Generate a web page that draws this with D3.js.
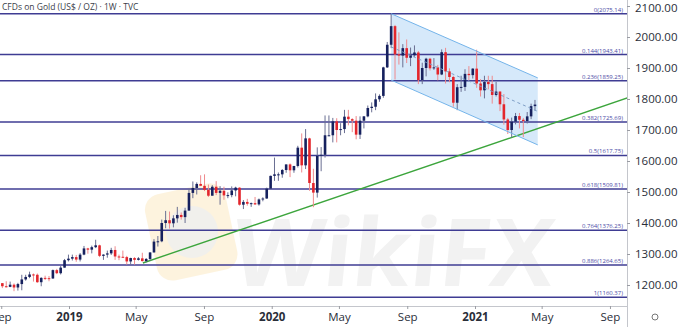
<!DOCTYPE html>
<html>
<head>
<meta charset="utf-8">
<script src="https://cdn.jsdelivr.net/npm/d3@7"></script>
<style>
  body { margin: 0; background: #fff; }
  #chart { width: 679px; height: 327px; }
  text { font-family: "Open Sans", "DejaVu Sans", sans-serif; }
</style>
</head>
<body>
<div id="chart"></div>
<script>
// weekly candles [open, high, low, close], first week starts Mon 3 Sep 2018
const firstWeek = new Date(2018, 8, 3);
const candles2018 = [
  [1206,1206,1190,1196],[1196,1212,1192,1194],[1194,1211,1193,1201],[1201,1205,1180,1192],
  [1192,1207,1182,1203],[1203,1233,1183,1218],[1218,1233,1214,1226],[1226,1243,1222,1234],
  [1234,1237,1211,1233],[1233,1237,1207,1209],[1209,1225,1196,1223],[1223,1230,1216,1222],
  [1222,1229,1212,1221],[1221,1250,1220,1248],[1248,1252,1235,1238],[1238,1261,1234,1256],
  [1256,1284,1256,1280],[1280,1298,1276,1285]
];
const candles2019 = [
  [1285,1298,1279,1290],[1290,1297,1275,1282],[1282,1303,1276,1298],[1298,1326,1296,1318],
  [1318,1320,1301,1314],[1314,1327,1302,1322],[1322,1346,1319,1328],[1328,1330,1290,1294],
  [1294,1299,1281,1298],[1298,1311,1288,1302],[1302,1320,1297,1313],[1313,1325,1281,1292],
  [1292,1298,1280,1291],[1291,1311,1289,1290],[1290,1294,1266,1276],[1276,1288,1266,1287],
  [1287,1290,1266,1281],[1281,1290,1279,1286],[1286,1304,1276,1277],[1277,1287,1273,1284],
  [1284,1306,1279,1305],[1305,1348,1305,1340],[1340,1358,1324,1341],[1341,1411,1338,1400],
  [1400,1439,1383,1409],[1409,1437,1382,1399],[1399,1425,1386,1415],[1415,1452,1401,1426],
  [1426,1434,1411,1419],[1419,1449,1400,1440],[1440,1510,1440,1497],[1497,1534,1480,1513],
  [1513,1531,1492,1526],[1526,1554,1519,1520],[1520,1557,1503,1507],[1507,1524,1484,1488],
  [1488,1522,1489,1517],[1517,1535,1490,1497],[1497,1519,1459,1504],[1504,1517,1475,1489],
  [1489,1499,1480,1490],[1490,1518,1483,1505],[1505,1517,1486,1514],[1514,1515,1456,1459],
  [1459,1474,1445,1468],[1468,1478,1456,1462],[1462,1466,1452,1464],[1464,1484,1458,1460],
  [1460,1479,1456,1476],[1476,1483,1470,1479],[1479,1514,1478,1511],[1511,1553,1510,1552]
];
const candles2020 = [
  [1552,1611,1536,1557],[1557,1563,1536,1557],[1557,1574,1546,1571],[1571,1589,1562,1589],
  [1589,1592,1548,1570],[1570,1584,1562,1584],[1584,1649,1579,1643],[1643,1689,1563,1586],
  [1586,1703,1574,1673],[1673,1675,1504,1529],[1529,1575,1451,1498],[1498,1644,1482,1617],
  [1617,1645,1567,1620],[1620,1747,1611,1683],[1683,1747,1680,1683],[1683,1739,1660,1728],
  [1728,1738,1660,1700],[1700,1722,1683,1703],[1703,1765,1690,1743],[1743,1765,1715,1735],
  [1735,1738,1693,1730],[1730,1745,1670,1685],[1685,1744,1671,1730],[1730,1745,1705,1744],
  [1744,1779,1741,1771],[1771,1789,1757,1775],[1775,1818,1764,1799],[1799,1815,1791,1810],
  [1810,1904,1804,1902],[1902,1984,1900,1975],[1975,2075,1964,2035],[2035,2039,1863,1944],
  [1944,2015,1911,1940],[1940,1977,1902,1964],[1964,1992,1916,1933],[1933,1966,1906,1941],
  [1941,1973,1936,1950],[1950,1955,1848,1861],[1861,1917,1848,1900],[1900,1933,1873,1930],
  [1930,1933,1892,1899],[1899,1932,1894,1902],[1902,1910,1860,1879],[1879,1960,1877,1951],
  [1951,1965,1850,1889],[1889,1899,1854,1871],[1871,1875,1775,1788],[1788,1848,1764,1838],
  [1838,1875,1823,1839],[1839,1896,1826,1881],[1881,1906,1860,1877],[1877,1899,1866,1898]
];
const candles2021 = [
  [1898,1959,1836,1850],[1850,1864,1808,1828],[1828,1875,1802,1855],[1855,1875,1831,1848],
  [1848,1875,1785,1813],[1813,1855,1808,1824],[1824,1825,1761,1783],[1783,1816,1717,1734],
  [1734,1739,1687,1700],[1700,1740,1676,1727],[1727,1755,1718,1745],[1745,1755,1705,1733],
  [1733,1739,1677,1729],[1729,1758,1721,1744],[1744,1785,1735,1777],[1777,1797,1763,1782]
];

const fibLevels = [
  [0, 2075.14], [0.144, 1943.41], [0.236, 1859.25], [0.382, 1725.69], [0.5, 1617.75],
  [0.618, 1509.81], [0.764, 1376.25], [0.886, 1264.65], [1, 1160.37]
];
const priceTicks = [1200, 1300, 1400, 1500, 1600, 1700, 1800, 1900, 2000, 2100];
const timeTicks = ["2018-09-01", "2019-01-01", "2019-05-01", "2019-09-01", "2020-01-01",
                   "2020-05-01", "2020-09-01", "2021-01-01", "2021-05-01", "2021-09-01"];
const channelUpper = [["2020-08-03", 2075.14], ["2021-04-24", 1868]];
const channelLower = [["2020-08-03", 1861], ["2021-04-24", 1652]];
const trendLine = [["2019-05-14", 1271], ["2021-10-15", 1811]];
const title = "CFDs on Gold (US$ / OZ) · 1W · TVC";

const parse = d3.timeParse("%Y-%m-%d");
const W = 679, H = 327, plotRight = 627, plotBottom = 306;

const svg = d3.select("#chart").append("svg").attr("width", W).attr("height", H);
svg.append("rect").attr("width", W).attr("height", H).attr("fill", "#fff");
svg.append("clipPath").attr("id", "plot").append("rect")
  .attr("width", plotRight).attr("height", plotBottom);

const x = d3.scaleTime()
  .domain([new Date(2019, 0, 1), new Date(2021, 0, 1)])
  .range([69, 475]);
const y = d3.scaleLinear().domain([1200, 2100]).range([285, 6]);

const bars = [].concat(candles2018, candles2019, candles2020, candles2021)
  .map((c, i) => ({ date: d3.timeMonday.offset(firstWeek, i), o: c[0], h: c[1], l: c[2], c: c[3] }));

const plot = svg.append("g").attr("clip-path", "url(#plot)");

// watermark
const wm = plot.append("g").attr("opacity", 0.45);
wm.append("rect").attr("x", 150).attr("y", 188).attr("width", 82).attr("height", 88)
  .attr("rx", 16).attr("fill", "#fbe6b8")
  .attr("transform", "rotate(-12,191,231)");
wm.append("circle").attr("cx", 192).attr("cy", 232).attr("r", 26).attr("fill", "#e2ded6");
plot.append("text").attr("x", 260).attr("y", 286).text("WikiFX")
  .attr("font-size", 94).attr("font-weight", 700).attr("fill", "#f2f2f2")
  .attr("transform", "skewX(-6)");

// descending channel
const chanPts = [
  [x(parse(channelUpper[0][0])), y(channelUpper[0][1])],
  [x(parse(channelUpper[1][0])), y(channelUpper[1][1])],
  [x(parse(channelLower[1][0])), y(channelLower[1][1])],
  [x(parse(channelLower[0][0])), y(channelLower[0][1])]
];
plot.append("polygon").attr("points", chanPts.map(p => p.join(",")).join(" "))
  .attr("fill", "#cfe5f9").attr("opacity", 0.85);

// fibonacci retracements
fibLevels.forEach(f => {
  plot.append("line").attr("x1", 0).attr("x2", plotRight)
    .attr("y1", y(f[1])).attr("y2", y(f[1]))
    .attr("stroke", "#3f3c93").attr("stroke-width", 1.5);
  plot.append("text").attr("x", 623).attr("y", y(f[1]) - 2)
    .attr("text-anchor", "end").attr("font-size", 6).attr("fill", "#4b4ba6")
    .text(f[0] + "(" + f[1].toFixed(2) + ")");
});

const line = d3.line().x(d => x(parse(d[0]))).y(d => y(d[1]));
plot.append("path").datum(trendLine).attr("d", line)
  .attr("stroke", "#3ca53c").attr("stroke-width", 1.4).attr("fill", "none");

// candles
const up = "#16215e", down = "#e3262c";
const cg = plot.selectAll(".bar").data(bars).enter().append("g");
cg.append("line")
  .attr("x1", d => x(d.date)).attr("x2", d => x(d.date))
  .attr("y1", d => y(d.h)).attr("y2", d => y(d.l))
  .attr("stroke", d => d.c >= d.o ? "#6a6f92" : "#ef8a8d").attr("stroke-width", 1);
cg.append("rect")
  .attr("x", d => x(d.date) - 1.3).attr("width", 2.6)
  .attr("y", d => y(Math.max(d.o, d.c)))
  .attr("height", d => Math.max(1, Math.abs(y(d.o) - y(d.c))))
  .attr("fill", d => d.c >= d.o ? up : down);

// channel borders + median
const cu = chanPts.slice(0, 2), cl = [chanPts[3], chanPts[2]];
[cu, cl].forEach(s => plot.append("line")
  .attr("x1", s[0][0]).attr("y1", s[0][1]).attr("x2", s[1][0]).attr("y2", s[1][1])
  .attr("stroke", "#74b4ea").attr("stroke-width", 1));
plot.append("line")
  .attr("x1", (cu[0][0] + cl[0][0]) / 2).attr("y1", (cu[0][1] + cl[0][1]) / 2)
  .attr("x2", (cu[1][0] + cl[1][0]) / 2).attr("y2", (cu[1][1] + cl[1][1]) / 2)
  .attr("stroke", "#7f9fc6").attr("stroke-width", 1).attr("stroke-dasharray", "3,3");

// axes
svg.append("line").attr("x1", plotRight + 0.5).attr("x2", plotRight + 0.5)
  .attr("y1", 0).attr("y2", H).attr("stroke", "#c4c6cc");
svg.append("line").attr("x1", 0).attr("x2", plotRight)
  .attr("y1", plotBottom + 0.5).attr("y2", plotBottom + 0.5).attr("stroke", "#c4c6cc");

const yAxis = svg.append("g").attr("transform", `translate(${plotRight},0)`)
  .call(d3.axisRight(y).tickValues(priceTicks).tickFormat(d3.format(".2f")).tickSize(3).tickPadding(5));
yAxis.select(".domain").remove();
yAxis.selectAll("line").attr("stroke", "#9a9ca3");
yAxis.selectAll("text").attr("font-size", 11.5).attr("fill", "#2a2e39")
  .attr("dy", d => d === 2100 ? "0.45em" : "0.32em");

const fmtMonth = d3.timeFormat("%b");
const xAxis = svg.append("g").attr("transform", `translate(0,${plotBottom})`)
  .call(d3.axisBottom(x).tickValues(timeTicks.map(parse)).tickSize(3).tickPadding(4)
    .tickFormat(d => d.getMonth() === 0 ? d.getFullYear() : fmtMonth(d)));
xAxis.select(".domain").remove();
xAxis.selectAll("line").attr("stroke", "#9a9ca3");
xAxis.selectAll("text").attr("font-size", 11.5).attr("fill", "#2a2e39")
  .attr("font-weight", d => d.getMonth() === 0 ? 700 : 400);

svg.append("circle").attr("cx", 655).attr("cy", 317).attr("r", 3)
  .attr("fill", "none").attr("stroke", "#777").attr("stroke-width", 1);

svg.append("text").attr("x", 2).attr("y", 10).attr("font-size", 8.5)
  .attr("fill", "#3a3e4a").text(title);
</script>
</body>
</html>
